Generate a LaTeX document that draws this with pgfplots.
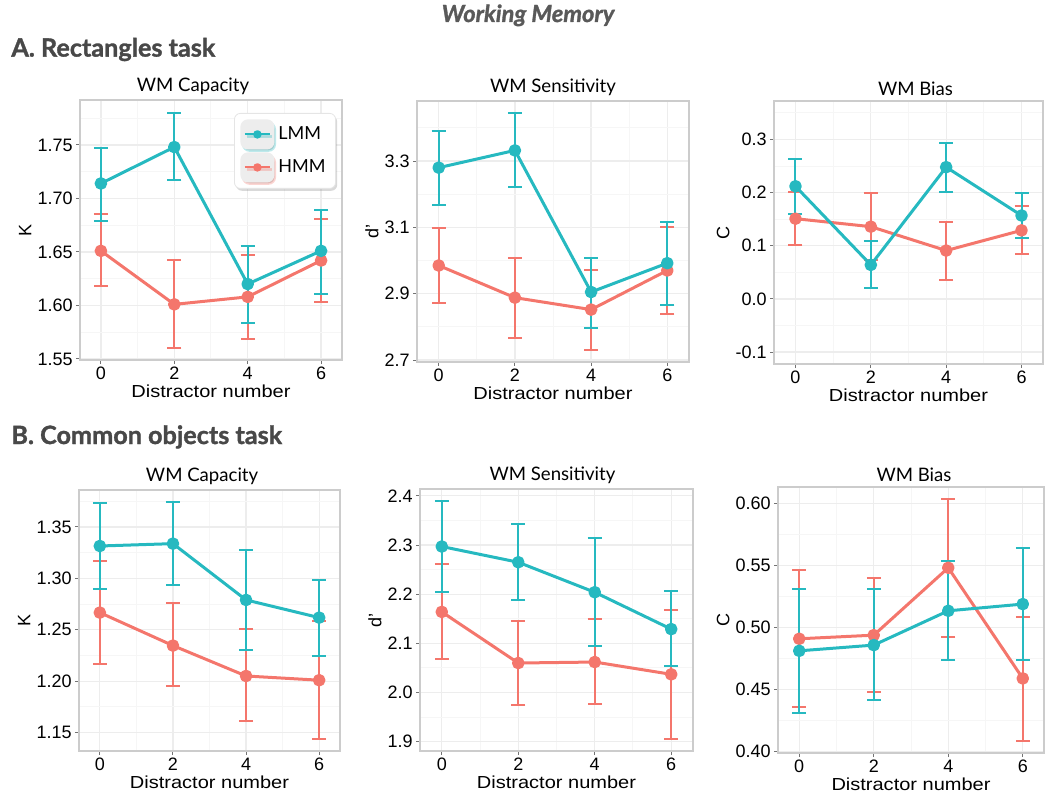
\documentclass[border=0pt]{standalone}
\usepackage{pgfplots}
\pgfplotsset{compat=1.18}
\usepackage{pgfplotstable}
\usepackage{fontspec}
\setmainfont{Liberation Sans}
\newfontfamily\lato{Lato}
\newfontfamily\latoheavy[FakeBold=1.3]{Lato}
\newfontfamily\xlabfont[FakeStretch=1.15]{Liberation Sans}
\usetikzlibrary{shadows}
\definecolor{lmm}{RGB}{38,185,192}
\definecolor{hmm}{RGB}{244,118,108}
\definecolor{hdr}{RGB}{72,72,72}

% x = distractor number; l* = LMM (mean, upper, lower); h* = HMM
\pgfplotstableread{
x ly lhi llo hy hhi hlo
0 1.714 1.747 1.679 1.651 1.685 1.618
2 1.748 1.780 1.717 1.601 1.642 1.560
4 1.620 1.656 1.584 1.608 1.647 1.569
6 1.651 1.689 1.611 1.642 1.681 1.603
}\tabAone
\pgfplotstableread{
x ly lhi llo hy hhi hlo
0 3.280 3.392 3.168 2.985 3.098 2.873
2 3.332 3.445 3.222 2.888 3.008 2.765
4 2.905 3.008 2.798 2.852 2.972 2.730
6 2.992 3.115 2.865 2.970 3.100 2.838
}\tabAtwo
\pgfplotstableread{
x ly lhi llo hy hhi hlo
0 0.212 0.264 0.159 0.151 0.202 0.101
2 0.064 0.109 0.021 0.136 0.199 0.074
4 0.248 0.294 0.202 0.091 0.144 0.036
6 0.157 0.200 0.115 0.129 0.175 0.084
}\tabAthree
\pgfplotstableread{
x ly lhi llo hy hhi hlo
0 1.3315 1.3737 1.2900 1.2667 1.3170 1.2165
2 1.3338 1.3747 1.2940 1.2346 1.2758 1.1950
4 1.2790 1.3280 1.2300 1.2050 1.2506 1.1610
6 1.2618 1.2980 1.2240 1.2009 1.2587 1.1435
}\tabBone
\pgfplotstableread{
x ly lhi llo hy hhi hlo
0 2.297 2.390 2.204 2.164 2.2605 2.068
2 2.265 2.342 2.188 2.060 2.1465 1.974
4 2.204 2.314 2.094 2.062 2.149 1.976
6 2.129 2.206 2.054 2.037 2.168 1.905
}\tabBtwo
\pgfplotstableread{
x ly lhi llo hy hhi hlo
0 0.4812 0.5311 0.4311 0.4909 0.5461 0.4359
2 0.4858 0.5306 0.4418 0.4938 0.5400 0.4480
4 0.5134 0.5531 0.4740 0.5480 0.6035 0.4922
6 0.5188 0.5638 0.4740 0.4590 0.5088 0.4088
}\tabBthree

\pgfplotsset{
 panel/.style={
  scale only axis, anchor=north west,
  xmin=-0.57, xmax=6.57,
  xtick={0,2,4,6}, minor xtick={1,3,5},
  grid=both,
  major grid style={black!7, line width=0.6pt},
  minor grid style={black!3.5, line width=0.5pt},
  axis line style={black!20, line width=0.8pt},
  tick align=outside, major tick length=2pt, minor tick length=0pt,
  tick style={black!55, line width=0.5pt},
  xtick pos=bottom, ytick pos=left,
  /pgf/number format/assume math mode=true,
  tick label style={font=\fontsize{9}{10}\selectfont, text=black},
  xticklabel style={inner sep=1.5pt},
  yticklabel style={inner sep=1.5pt},
  xlabel={Distractor number},
  xlabel style={font=\xlabfont\fontsize{8.7}{10}\selectfont, yshift=2.5pt},
  ylabel style={font=\fontsize{9}{10}\selectfont, yshift=-2pt},
  title style={font=\lato\fontsize{9.3}{11}\selectfont, yshift=-7pt},
  legend image code/.code={%
    \fill[black!7] (-1pt,-6.75pt) rectangle (14.5pt,6.75pt);
    \draw[mark repeat=2,mark phase=2,#1,line width=1pt,mark size=1.6pt] plot coordinates {(0.5pt,0pt) (6.75pt,0pt) (13pt,0pt)};},
 },
 p2/.style={/pgf/number format/.cd, fixed, fixed zerofill, precision=2},
 p1/.style={/pgf/number format/.cd, fixed, fixed zerofill, precision=1},
 lmmplot/.style={color=lmm, line width=1.5pt, mark=*, mark size=2.4pt, line join=round},
 hmmplot/.style={color=hmm, line width=1.5pt, mark=*, mark size=2.4pt, line join=round},
 error bars/error bar style={line width=1pt},
 error bars/error mark options={rotate=90, mark size=3.5pt, line width=1pt},
}

\newcommand{\series}[5]{\addplot[#1, error bars/y dir=both, error bars/y explicit] table[x=x, y=#3, y error plus expr=\thisrow{#4}-\thisrow{#3}, y error minus expr=\thisrow{#3}-\thisrow{#5}] {#2};}

\begin{document}
\begin{tikzpicture}
\useasboundingbox (0pt,0pt) rectangle (525pt,-404pt);

\node[anchor=base, font=\latoheavy\bfseries\itshape\fontsize{11.8}{13}\selectfont, text=black!65] at (264pt,-11pt) {Working Memory};
\node[anchor=base west, font=\latoheavy\bfseries\fontsize{12.6}{14}\selectfont, text=hdr, inner sep=0pt] at (5.5pt,-28.3pt) {A. Rectangles task};
\node[anchor=base west, font=\latoheavy\bfseries\fontsize{12.6}{14}\selectfont, text=hdr, inner sep=0pt] at (5.5pt,-222pt) {B. Common objects task};

% ---------- A1
\begin{axis}[panel, at={(40pt,-50pt)}, width=131pt, height=130pt,
  title={WM Capacity}, title style={xshift=-9pt}, ylabel={K},
  ymin=1.549, ymax=1.792,
  ytick={1.55,1.60,1.65,1.70,1.75}, minor ytick={1.575,1.625,1.675,1.725,1.775},
  yticklabel style={p2},
  reverse legend,
  legend style={at={(1,1)}, anchor=north east, xshift=-3pt, yshift=-6.5pt,
    draw=black!10, fill=white, rounded corners=3pt,
    drop shadow={shadow xshift=0.8pt, shadow yshift=-1.2pt, opacity=0.3},
    font=\lato\fontsize{9}{10}\selectfont, row sep=1.5pt,
    inner xsep=3pt, inner ysep=3pt, cells={anchor=west}},
]
\series{hmmplot}{\tabAone}{hy}{hhi}{hlo}
\series{lmmplot}{\tabAone}{ly}{lhi}{llo}
\legend{HMM,LMM}
\end{axis}

% ---------- A2
\begin{axis}[panel, at={(208.5pt,-50.5pt)}, width=136pt, height=130.5pt,
  title={WM Sensitivity}, ylabel={d'},
  ymin=2.694, ymax=3.481,
  ytick={2.7,2.9,3.1,3.3}, minor ytick={2.8,3.0,3.2,3.4},
  yticklabel style={p1},
]
\series{hmmplot}{\tabAtwo}{hy}{hhi}{hlo}
\series{lmmplot}{\tabAtwo}{ly}{lhi}{llo}
\end{axis}

% ---------- A3
\begin{axis}[panel, at={(387pt,-50.5pt)}, width=134.5pt, height=131.5pt,
  title={WM Bias}, title style={xshift=3.5pt}, ylabel={C},
  ymin=-0.1225, ymax=0.3725,
  ytick={-0.1,0,0.1,0.2,0.3}, minor ytick={-0.05,0.05,0.15,0.25,0.35},
  yticklabel style={p1},
]
\series{hmmplot}{\tabAthree}{hy}{hhi}{hlo}
\series{lmmplot}{\tabAthree}{ly}{lhi}{llo}
\end{axis}

% ---------- B1
\begin{axis}[panel, at={(39.5pt,-245pt)}, width=130.5pt, height=130.5pt,
  title={WM Capacity}, title style={xshift=-3.7pt}, ylabel={K},
  ymin=1.132, ymax=1.386,
  ytick={1.15,1.20,1.25,1.30,1.35}, minor ytick={1.175,1.225,1.275,1.325,1.375},
  yticklabel style={p2},
]
\series{hmmplot}{\tabBone}{hy}{hhi}{hlo}
\series{lmmplot}{\tabBone}{ly}{lhi}{llo}
\end{axis}

% ---------- B2
\begin{axis}[panel, at={(210pt,-244.5pt)}, width=136.5pt, height=131pt,
  title={WM Sensitivity}, title style={xshift=-2pt}, ylabel={d'},
  ymin=1.881, ymax=2.414,
  ytick={1.9,2.0,2.1,2.2,2.3,2.4}, minor ytick={1.95,2.05,2.15,2.25,2.35},
  yticklabel style={p1},
]
\series{hmmplot}{\tabBtwo}{hy}{hhi}{hlo}
\series{lmmplot}{\tabBtwo}{ly}{lhi}{llo}
\end{axis}

% ---------- B3
\begin{axis}[panel, at={(389pt,-243.5pt)}, width=133pt, height=133pt,
  title={WM Bias}, title style={xshift=1.5pt}, ylabel={C},
  ymin=0.399, ymax=0.613,
  ytick={0.40,0.45,0.50,0.55,0.60}, minor ytick={0.425,0.475,0.525,0.575},
  yticklabel style={p2},
]
\series{hmmplot}{\tabBthree}{hy}{hhi}{hlo}
\series{lmmplot}{\tabBthree}{ly}{lhi}{llo}
\end{axis}
\end{tikzpicture}
\end{document}
